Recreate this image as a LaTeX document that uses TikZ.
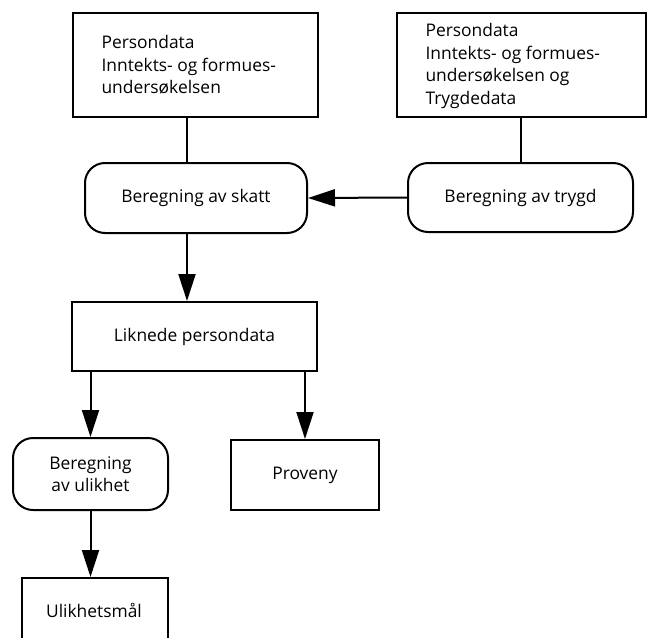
\documentclass[tikz,border=0pt]{standalone}
\usepackage{fontspec}
\setmainfont{Open Sans}
\usetikzlibrary{arrows.meta}
\begin{document}
\begin{tikzpicture}[x=1pt,y=-1pt,
  every node/.style={font=\fontsize{17.4}{22.5}\selectfont},
  sqbox/.style={draw,line width=2pt,inner sep=0pt,align=center},
  rbox/.style={draw,line width=2pt,inner sep=0pt,rounded corners=20pt,align=center},
  conn/.style={line width=2pt},
  arr/.style={line width=2pt,-{Triangle[length=27pt,width=17pt]}}]
\useasboundingbox (0,0) rectangle (650,637);
\begin{scope}
\clip (0,0) rectangle (650,637);
\node[sqbox,minimum width=245pt,minimum height=104pt] (box1) at (195.5,65) {};
\node[anchor=west,align=left] (t1) at (98,65) {Persondata\\Inntekts- og formues-\\undersøkelsen};
\node[sqbox,minimum width=249pt,minimum height=104pt] (box2) at (521.5,65) {};
\node[anchor=west,align=left] (t2) at (422,66) {Persondata\\Inntekts- og formues-\\undersøkelsen og\\Trygdedata};
\node[rbox,minimum width=222pt,minimum height=70pt] (skatt) at (196,198) {Beregning av skatt};
\node[rbox,minimum width=225pt,minimum height=69pt] (trygd) at (520.5,197.5) {Beregning av trygd};
\node[sqbox,minimum width=245pt,minimum height=69pt] (lik) at (194.5,336.5) {Liknede persondata};
\node[rbox,minimum width=155pt,minimum height=72pt] (ulik) at (90.5,474) {Beregning\\av ulikhet};
\node[sqbox,minimum width=148pt,minimum height=70pt] (prov) at (305,475) {Proveny};
\node[sqbox,minimum width=146pt,minimum height=84pt] (mal) at (95,620) {};
\node (maltxt) at (94,610) {Ulikhetsmål};
\coordinate (c1) at (187,0);
\draw[conn] (box1.south -| c1) -- (skatt.north -| c1);
\draw[conn] (box2.south -| trygd.north) -- (trygd.north);
\draw[arr] (trygd.west) -- (skatt.east);
\draw[arr] (skatt.south -| c1) -- (lik.north -| c1);
\draw[arr] (lik.south -| ulik.north) -- (ulik.north);
\draw[arr] (lik.south -| prov.north) -- (prov.north);
\draw[arr] (ulik.south) -- (mal.north -| ulik.south);
\end{scope}
\end{tikzpicture}
\end{document}
